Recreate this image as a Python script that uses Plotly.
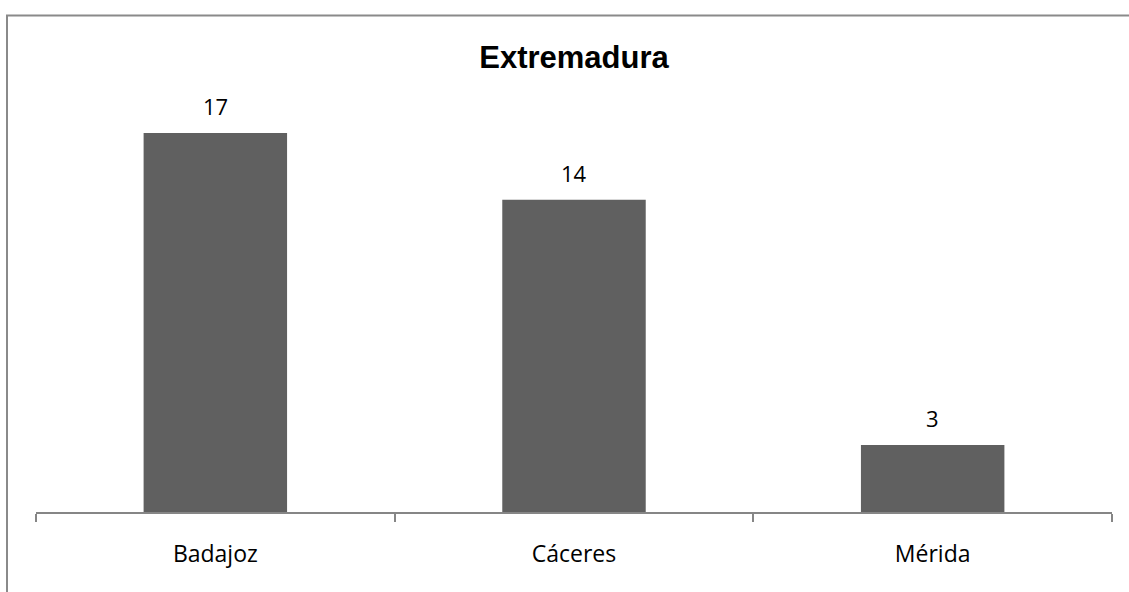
import plotly.graph_objects as go

categories = ["Badajoz", "Cáceres", "Mérida"]
values = [17, 14, 3]
title_text = "Extremadura"

W, H = 1129, 592
ml, mr, mt, mb = 36, 17, 66, 80

fig = go.Figure()
fig.add_trace(go.Bar(
    x=categories, y=values,
    marker=dict(color="#606060", line=dict(width=0)),
    hoverinfo="x+y",
))

for c, v in zip(categories, values):
    fig.add_annotation(
        x=c, y=v, text=str(v), showarrow=False,
        yanchor="bottom", yshift=10,
        font=dict(family="Open Sans, Noto Sans, sans-serif", size=22, color="#000000"),
    )

pw = W - ml - mr
ph = H - mt - mb
x_left = (7 - ml) / pw
y_top = (H - mb - 15.5) / ph
fig.add_shape(
    type="rect", xref="paper", yref="paper",
    x0=x_left, x1=1.2, y0=-0.5, y1=y_top,
    line=dict(color="#8a8a8a", width=2),
    fillcolor="rgba(0,0,0,0)", layer="below",
)

fig.update_layout(
    width=W, height=H,
    margin=dict(l=ml, r=mr, t=mt, b=mb),
    paper_bgcolor="white", plot_bgcolor="white",
    bargap=0.6,
    showlegend=False,
    title=dict(
        text="<b>" + title_text + "</b>",
        x=(ml + pw / 2) / W, xanchor="center",
        y=1 - 57 / H, yanchor="middle",
        font=dict(family="Liberation Sans Narrow, Arial Narrow, Liberation Sans, sans-serif", size=31, color="#000000"),
    ),
    xaxis=dict(
        showline=True, linecolor="#868686", linewidth=2,
        ticks="outside", tickson="boundaries", ticklen=8, tickcolor="#868686", tickwidth=2,
        ticklabelstandoff=20,
        tickfont=dict(family="Open Sans, Noto Sans, sans-serif", size=23, color="#000000"),
        showgrid=False, zeroline=False,
    ),
    yaxis=dict(
        range=[0, 20], visible=False, showgrid=False, zeroline=False,
    ),
)

fig.write_html("out.html", config={"displayModeBar": False},
               post_script="document.body.style.margin='0';")
